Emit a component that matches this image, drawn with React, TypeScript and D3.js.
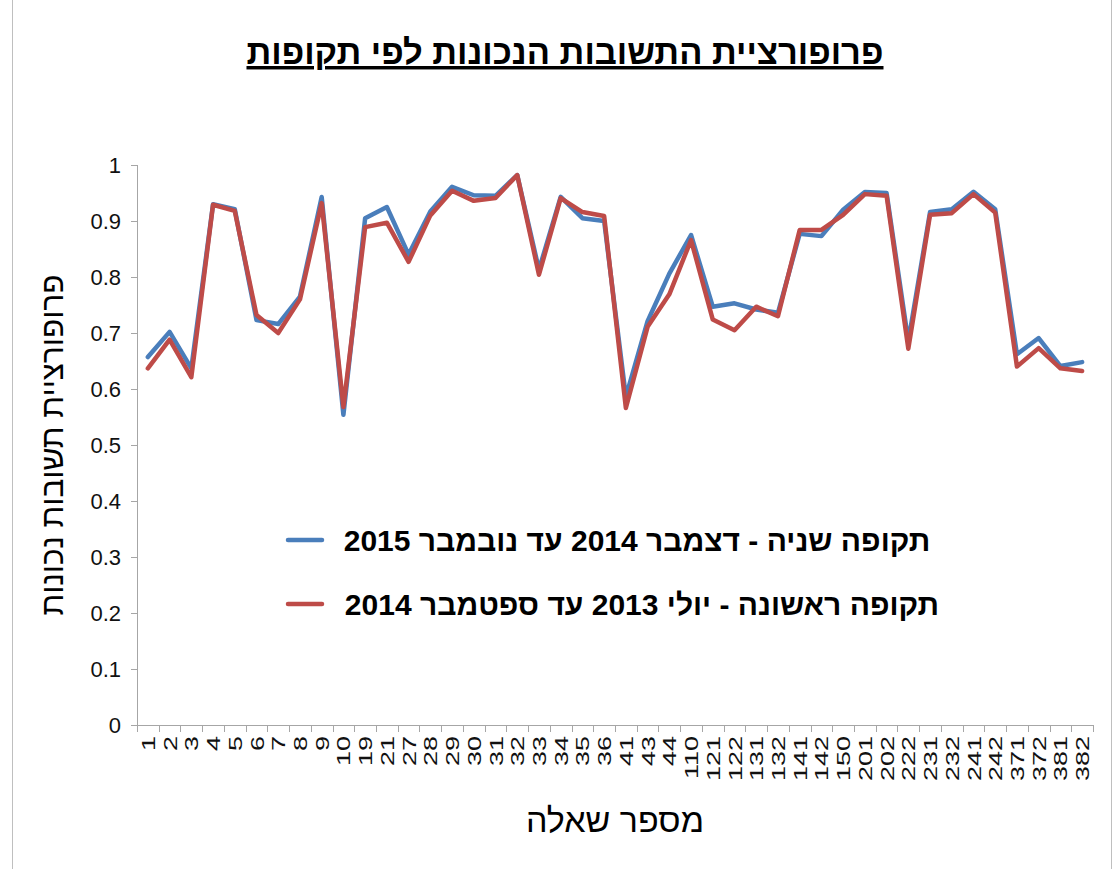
import React from "react";
import * as d3 from "d3";

const categories = ["1","2","3","4","5","6","7","8","9","10","19","21","27","28","29","30","31","32","33","34","35","36","41","43","44","110","121","122","131","132","141","142","150","201","202","222","231","232","241","242","371","372","381","382"];

const period2 = [0.657,0.702,0.637,0.930,0.921,0.723,0.716,0.765,0.943,0.554,0.905,0.925,0.840,0.917,0.961,0.946,0.945,0.982,0.813,0.943,0.905,0.900,0.586,0.721,0.806,0.875,0.747,0.753,0.742,0.736,0.877,0.873,0.920,0.952,0.950,0.685,0.916,0.921,0.952,0.921,0.662,0.691,0.641,0.648];
const period1 = [0.637,0.688,0.621,0.929,0.918,0.732,0.700,0.760,0.932,0.568,0.889,0.897,0.827,0.910,0.954,0.936,0.941,0.982,0.804,0.941,0.916,0.909,0.566,0.711,0.769,0.866,0.724,0.705,0.747,0.730,0.884,0.884,0.911,0.948,0.945,0.672,0.911,0.914,0.948,0.915,0.640,0.673,0.637,0.632];

const yTicks = [0,0.1,0.2,0.3,0.4,0.5,0.6,0.7,0.8,0.9,1];

const title = "פרופורציית התשובות הנכונות לפי תקופות";
const yTitle = "פרופורציית תשובות נכונות";
const xTitle = "מספר שאלה";
const legend2 = "תקופה שניה - דצמבר 2014 עד נובמבר 2015";
const legend1 = "תקופה ראשונה - יולי 2013 עד ספטמבר 2014";

const BLUE = "#4A7EBB";
const RED = "#BE4B48";

export default function App() {
  const W = 1115, H = 869;
  const left = 137, right = 1093, top = 165, bottom = 725;
  const x = d3.scaleBand<string>().domain(categories).range([left, right]).padding(0);
  const y = d3.scaleLinear().domain([0, 1]).range([bottom, top]);
  const cx = (c: string) => (x(c) as number) + x.bandwidth() / 2;
  const line = d3.line<number>().x((_, i) => cx(categories[i])).y((d) => y(d));
  const font = "'Liberation Sans', Arial, sans-serif";
  const boundaries = categories.map((c) => x(c) as number).concat([right]);

  return (
    <svg width={W} height={H} style={{ position: "absolute", left: 0, top: 0 }} fontFamily={font}>
      <rect x={0} y={0} width={W} height={H} fill="#fff" />
      <line x1={12.5} x2={12.5} y1={0} y2={H} stroke="#bfbfbf" strokeWidth={1} />
      <line x1={1111.5} x2={1111.5} y1={0} y2={H} stroke="#bfbfbf" strokeWidth={1} />

      <text x={565} y={64} textAnchor="middle" direction="rtl" fontSize={34.5} fontWeight="bold" textDecoration="underline">{title}</text>

      {/* y axis */}
      <line x1={left + 0.5} x2={left + 0.5} y1={top} y2={bottom} stroke="#a6a6a6" />
      {yTicks.map((t) => (
        <g key={t}>
          <line x1={left - 6} x2={left} y1={Math.round(y(t)) + 0.5} y2={Math.round(y(t)) + 0.5} stroke="#a6a6a6" />
          <text x={121} y={y(t) + 8} textAnchor="end" fontSize={22} fill="#111">{String(t)}</text>
        </g>
      ))}
      <text transform={`translate(63,445) rotate(-90)`} textAnchor="middle" direction="rtl" fontSize={31.5}>{yTitle}</text>

      {/* x axis */}
      <line x1={left} x2={right} y1={bottom + 0.5} y2={bottom + 0.5} stroke="#a6a6a6" />
      {boundaries.map((b, i) => (
        <line key={i} x1={Math.round(b) + 0.5} x2={Math.round(b) + 0.5} y1={bottom} y2={bottom + 7} stroke="#a6a6a6" />
      ))}
      {categories.map((c) => (
        <text key={c} transform={`translate(${cx(c) + 7},${bottom + 11}) rotate(-90) scale(1.42,1)`} textAnchor="end" fontSize={19} fill="#111">{c}</text>
      ))}
      <text x={615} y={832} textAnchor="middle" direction="rtl" fontSize={34}>{xTitle}</text>

      {/* series */}
      <path d={line(period2) as string} fill="none" stroke={BLUE} strokeWidth={4.5} strokeLinejoin="round" strokeLinecap="round" />
      <path d={line(period1) as string} fill="none" stroke={RED} strokeWidth={4.5} strokeLinejoin="round" strokeLinecap="round" />

      {/* legend */}
      <line x1={288} x2={322} y1={540} y2={540} stroke={BLUE} strokeWidth={4.5} strokeLinecap="round" />
      <text x={637} y={551} textAnchor="middle" direction="rtl" fontSize={30} fontWeight="bold">{legend2}</text>
      <line x1={288} x2={322} y1={604} y2={604} stroke={RED} strokeWidth={4.5} strokeLinecap="round" />
      <text x={642} y={615} textAnchor="middle" direction="rtl" fontSize={30} fontWeight="bold">{legend1}</text>
    </svg>
  );
}
